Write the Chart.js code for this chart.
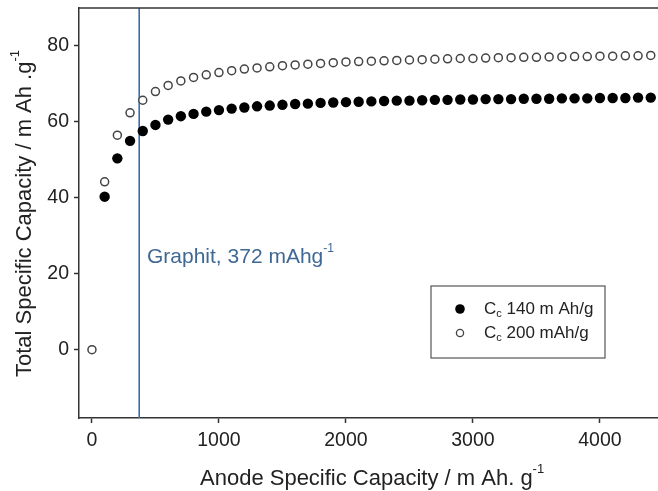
<!DOCTYPE html>
<html>
<head>
<meta charset="utf-8">
<script src="https://cdn.jsdelivr.net/npm/chart.js@4.4.1/dist/chart.umd.min.js"></script>
<style>
html,body{margin:0;padding:0;background:#fff;}
#wrap{position:relative;width:658px;height:491px;}
</style>
</head>
<body>
<div id="wrap"><canvas id="c" width="658" height="491"></canvas></div>
<script>
// ---- data ----
const anodeCapacity = [0,100,200,300,400,500,600,700,800,900,1000,1100,1200,1300,1400,1500,1600,1700,1800,1900,2000,2100,2200,2300,2400,2500,2600,2700,2800,2900,3000,3100,3200,3300,3400,3500,3600,3700,3800,3900,4000,4100,4200,4300,4400];
const totalCc140 = [null,40.3,50.4,55.0,57.6,59.2,60.6,61.5,62.1,62.7,63.1,63.5,63.8,64.1,64.3,64.5,64.7,64.8,65.0,65.1,65.2,65.3,65.4,65.5,65.6,65.6,65.7,65.8,65.8,65.9,65.9,66.0,66.0,66.0,66.1,66.1,66.1,66.2,66.2,66.2,66.3,66.3,66.3,66.4,66.4];
const totalCc200 = [0,44.2,56.5,62.4,65.7,68.0,69.6,70.8,71.7,72.4,73.0,73.5,73.9,74.2,74.5,74.8,75.0,75.2,75.4,75.6,75.8,75.9,76.0,76.1,76.2,76.3,76.4,76.5,76.6,76.7,76.7,76.8,76.9,76.9,77.0,77.0,77.1,77.1,77.2,77.2,77.3,77.3,77.4,77.4,77.5];
const graphiteCapacity = 372;
const xTicks = [0,1000,2000,3000,4000];
const yTicks = [0,20,40,60,80];
const seriesNames = ["140 m Ah/g","200 mAh/g"];

const FONT = "'Liberation Sans', Arial, sans-serif";
const AXIS = '#333333';
const TEXT = '#222222';
const BLUE = '#3a6ea5';
const LABEL_BLUE = '#3f6895';

function pts(ys){ const o=[]; ys.forEach((y,i)=>{ if(y!==null) o.push({x:anodeCapacity[i], y:y}); }); return o; }

function richText(ctx, parts, x, y){
  let cx = x;
  parts.forEach(p=>{
    ctx.font = p.size + 'px ' + FONT;
    ctx.fillText(p.t, cx, y + (p.dy||0));
    cx += ctx.measureText(p.t).width;
  });
}

const decor = {
  id:'decor',
  afterDraw(chart){
    const ctx = chart.ctx, a = chart.chartArea;
    ctx.save();
    // top frame line
    ctx.strokeStyle = AXIS; ctx.lineWidth = 1.5;
    ctx.beginPath(); ctx.moveTo(a.left, a.top); ctx.lineTo(a.right, a.top); ctx.stroke();
    ctx.textBaseline = 'alphabetic'; ctx.textAlign = 'left';
    // x title
    ctx.fillStyle = TEXT;
    richText(ctx, [{t:'Anode Specific Capacity / m Ah. g', size:22},{t:'-1', size:13, dy:-12}], 200, 485);
    // y title (rotated)
    ctx.save();
    ctx.translate(31, 377); ctx.rotate(-Math.PI/2);
    richText(ctx, [{t:'Total Specific Capacity / m Ah .g', size:22},{t:'-1', size:13, dy:-12}], 0, 0);
    ctx.restore();
    // graphite label
    ctx.fillStyle = LABEL_BLUE;
    richText(ctx, [{t:'Graphit, 372 mAhg', size:21},{t:'-1', size:12, dy:-11}], 147, 263);
    // legend
    const lx=431, ly=286, lw=174, lh=72;
    ctx.fillStyle='#fff'; ctx.fillRect(lx,ly,lw,lh);
    ctx.strokeStyle='#555'; ctx.lineWidth=1.2; ctx.strokeRect(lx,ly,lw,lh);
    const rows=[{y:309, ds:chart.data.datasets[0], name:seriesNames[0]},{y:333, ds:chart.data.datasets[1], name:seriesNames[1]}];
    rows.forEach((r,i)=>{
      ctx.beginPath(); ctx.arc(460, r.y, i===0?4.8:3.6, 0, Math.PI*2);
      if(i===0){ ctx.fillStyle=r.ds.backgroundColor; ctx.fill(); }
      else { ctx.fillStyle='#fff'; ctx.fill(); ctx.strokeStyle=r.ds.borderColor; ctx.lineWidth=1.3; ctx.stroke(); }
      ctx.fillStyle=TEXT; ctx.textBaseline='middle';
      richText(ctx, [{t:'C', size:17},{t:'c', size:11, dy:5},{t:' '+r.name, size:17}], 484, r.y);
    });
    ctx.restore();
  }
};

new Chart(document.getElementById('c'), {
  type:'scatter',
  data:{ datasets:[
    { label:'Cc '+seriesNames[0], data:pts(totalCc140), backgroundColor:'#000', borderColor:'#000', borderWidth:0, pointRadius:5.2, pointHoverRadius:5.2, order:2 },
    { label:'Cc '+seriesNames[1], data:pts(totalCc200), backgroundColor:'#fff', borderColor:'#444', borderWidth:1.5, pointRadius:4, pointHoverRadius:4, order:1 },
    { type:'line', label:'Graphit', data:[{x:graphiteCapacity,y:-18},{x:graphiteCapacity,y:90}], borderColor:BLUE, borderWidth:1.6, pointRadius:0, fill:false, order:3 }
  ]},
  options:{
    responsive:false, animation:false, devicePixelRatio:1,
    layout:{ autoPadding:false, padding:{ top:8, right:0, left:0, bottom:0 } },
    plugins:{ legend:{display:false}, tooltip:{enabled:false} },
    scales:{
      x:{ type:'linear', min:-102, max:4457,
        afterBuildTicks(s){ s.ticks = xTicks.map(v=>({value:v})); },
        afterFit(s){ s.height = 73; s.paddingLeft = 0; s.paddingRight = 0; },
        grid:{ drawOnChartArea:false, drawTicks:true, tickLength:5, tickColor:AXIS, tickWidth:1.5 },
        border:{ display:true, color:AXIS, width:1.5 },
        ticks:{ color:TEXT, font:{family:FONT, size:19.5}, padding:6, maxRotation:0, callback:(v)=>String(v) }
      },
      y:{ type:'linear', min:-18, max:90,
        afterBuildTicks(s){ s.ticks = yTicks.map(v=>({value:v})); },
        afterFit(s){ s.width = 79; s.paddingTop = 0; s.paddingBottom = 0; },
        grid:{ drawOnChartArea:false, drawTicks:true, tickLength:5, tickColor:AXIS, tickWidth:1.5 },
        border:{ display:true, color:AXIS, width:1.5 },
        ticks:{ color:TEXT, font:{family:FONT, size:19.5}, padding:5, callback:(v)=>String(v) }
      }
    }
  },
  plugins:[decor]
});
</script>
</body>
</html>
